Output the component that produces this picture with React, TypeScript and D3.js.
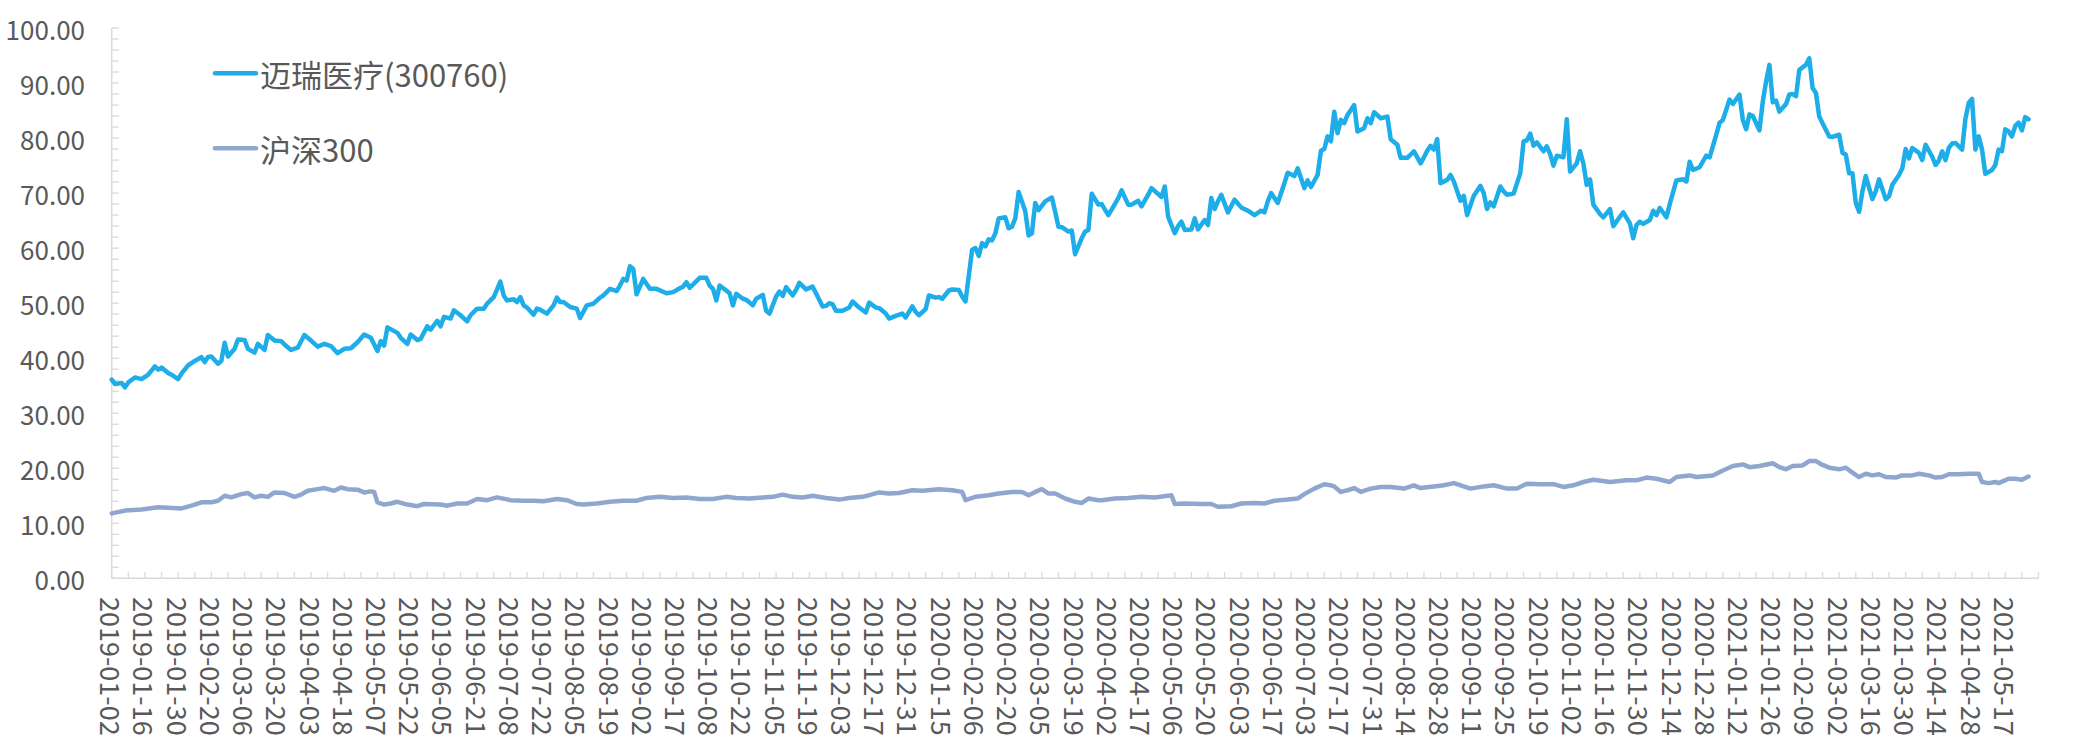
import * as d3 from "d3";
import React from "react";

// trading-day index of every 10th day, as printed on the category axis
const dateLabels = [
    "2019-01-02", "2019-01-16", "2019-01-30", "2019-02-20", "2019-03-06", "2019-03-20",
    "2019-04-03", "2019-04-18", "2019-05-07", "2019-05-22", "2019-06-05", "2019-06-21",
    "2019-07-08", "2019-07-22", "2019-08-05", "2019-08-19", "2019-09-02", "2019-09-17",
    "2019-10-08", "2019-10-22", "2019-11-05", "2019-11-19", "2019-12-03", "2019-12-17",
    "2019-12-31", "2020-01-15", "2020-02-06", "2020-02-20", "2020-03-05", "2020-03-19",
    "2020-04-02", "2020-04-17", "2020-05-06", "2020-05-20", "2020-06-03", "2020-06-17",
    "2020-07-03", "2020-07-17", "2020-07-31", "2020-08-14", "2020-08-28", "2020-09-11",
    "2020-09-25", "2020-10-19", "2020-11-02", "2020-11-16", "2020-11-30", "2020-12-14",
    "2020-12-28", "2021-01-12", "2021-01-26", "2021-02-09", "2021-03-02", "2021-03-16",
    "2021-03-30", "2021-04-14", "2021-04-28", "2021-05-17",
];
const labelEvery = 10;
const dayCount = 581;

const seriesNames = ["迈瑞医疗(300760)", "沪深300"];
const seriesColors = ["#1DADE8", "#8FA6CF"];

// [trading day, value]
const mindray: [number, number][] = [
    [0, 36.1], [1, 35.3], [3, 35.5], [4, 34.7], [5, 35.6], [7, 36.5], [9, 36.2], [11, 37.0],
    [13, 38.5], [14, 37.9], [15, 38.3], [17, 37.3], [18, 37.0], [20, 36.2], [21, 37.2], [23, 38.7],
    [25, 39.5], [27, 40.2], [28, 39.3], [29, 40.2], [30, 40.3], [32, 39.0], [33, 39.5], [34, 42.8],
    [35, 40.3], [37, 41.7], [38, 43.4], [40, 43.3], [41, 41.7], [43, 41.0], [44, 42.6], [46, 41.5],
    [47, 44.2], [49, 43.2], [51, 43.1], [52, 42.5], [54, 41.5], [56, 41.9], [58, 44.2], [60, 43.2],
    [62, 42.1], [64, 42.6], [66, 42.2], [68, 40.9], [70, 41.7], [72, 41.8], [74, 42.9], [76, 44.3],
    [78, 43.7], [80, 41.3], [81, 43.1], [82, 42.3], [83, 45.6], [86, 44.6], [87, 43.7], [89, 42.6],
    [90, 44.3], [92, 43.3], [93, 43.5], [95, 45.8], [96, 45.2], [98, 46.8], [99, 45.8], [100, 47.5],
    [102, 47.2], [103, 48.7], [105, 47.8], [107, 46.7], [108, 47.8], [110, 49.0], [112, 49.0], [113, 49.9],
    [115, 51.1], [117, 53.9], [118, 51.4], [119, 50.5], [121, 50.7], [122, 50.2], [123, 51.1], [124, 49.6],
    [125, 49.2], [127, 47.9], [128, 49.0], [129, 48.8], [131, 48.1], [133, 49.6], [134, 51.0], [135, 50.2],
    [136, 50.2], [138, 49.3], [140, 49.0], [141, 47.3], [143, 49.6], [145, 49.9], [147, 51.0], [148, 51.4],
    [150, 52.6], [152, 52.2], [153, 53.2], [154, 54.4], [155, 54.1], [156, 56.7], [157, 56.2], [158, 51.6],
    [160, 54.4], [162, 52.6], [164, 52.6], [167, 51.8], [169, 52.0], [171, 52.7], [172, 53.0], [173, 53.8],
    [174, 52.8], [177, 54.6], [179, 54.6], [180, 53.2], [181, 52.6], [182, 50.5], [183, 53.2], [185, 52.3],
    [186, 51.8], [187, 49.6], [188, 51.7], [190, 50.8], [191, 50.6], [193, 49.6], [194, 50.8], [196, 51.5],
    [197, 48.6], [198, 48.1], [200, 51.2], [201, 52.1], [202, 51.3], [203, 52.9], [205, 51.4], [206, 52.4],
    [207, 53.7], [209, 52.5], [211, 53.0], [212, 51.8], [214, 49.4], [215, 49.5], [216, 50.0], [217, 49.8],
    [218, 48.6], [220, 48.6], [222, 49.2], [223, 50.3], [225, 49.2], [227, 48.3], [228, 50.1], [230, 49.2],
    [231, 49.1], [233, 48.1], [234, 47.2], [236, 47.7], [238, 48.1], [239, 47.4], [241, 49.4], [242, 48.4],
    [243, 47.8], [245, 48.9], [246, 51.4], [248, 51.0], [249, 51.1], [250, 50.8], [252, 52.3], [253, 52.5],
    [255, 52.4], [256, 51.2], [257, 50.3], [259, 59.7], [260, 60.0], [261, 58.6], [262, 60.9], [263, 60.3],
    [264, 61.6], [265, 61.4], [266, 62.7], [267, 65.4], [269, 65.6], [270, 63.6], [271, 63.9], [272, 65.4],
    [273, 70.2], [275, 66.7], [276, 62.3], [277, 62.7], [278, 68.2], [279, 66.9], [281, 68.5], [283, 69.2],
    [284, 66.6], [285, 63.9], [286, 63.8], [288, 63.0], [289, 63.2], [290, 58.9], [292, 61.8], [293, 63.0],
    [294, 63.3], [295, 69.9], [297, 67.9], [298, 68.0], [300, 66.0], [301, 67.0], [303, 69.1], [304, 70.5],
    [306, 67.9], [307, 67.9], [309, 68.6], [310, 67.6], [312, 69.7], [313, 70.9], [316, 69.3], [317, 71.2],
    [318, 65.7], [320, 62.7], [321, 64.0], [322, 64.8], [323, 63.3], [325, 63.4], [326, 65.4], [327, 63.4],
    [329, 65.1], [330, 64.2], [331, 69.1], [332, 67.1], [333, 68.5], [334, 69.7], [336, 66.5], [338, 68.8],
    [340, 67.4], [342, 66.8], [344, 66.0], [346, 66.8], [347, 66.5], [348, 68.5], [349, 70.0], [351, 68.2],
    [353, 71.8], [354, 73.7], [356, 73.1], [357, 74.5], [359, 70.9], [360, 72.3], [361, 71.1], [363, 73.3],
    [364, 77.7], [365, 78.0], [366, 80.3], [367, 79.4], [368, 84.8], [369, 80.9], [370, 83.3], [371, 82.7],
    [372, 84.2], [374, 86.0], [375, 81.2], [377, 81.8], [378, 83.6], [379, 82.7], [380, 84.7], [382, 83.6],
    [384, 83.9], [385, 79.8], [387, 78.8], [388, 76.4], [390, 76.4], [391, 77.0], [392, 77.6], [394, 75.4],
    [395, 76.5], [396, 77.7], [397, 78.6], [398, 77.9], [399, 79.8], [400, 71.8], [402, 72.4], [403, 73.3],
    [404, 72.1], [406, 68.6], [407, 69.5], [408, 66.0], [410, 69.5], [412, 71.3], [413, 70.0], [414, 67.1],
    [415, 68.3], [416, 67.6], [418, 71.2], [419, 70.3], [420, 69.7], [422, 69.9], [424, 73.6], [425, 79.4],
    [426, 79.6], [427, 80.8], [428, 78.6], [429, 79.2], [431, 77.6], [432, 78.5], [433, 77.1], [434, 75.0],
    [435, 76.8], [437, 76.5], [438, 83.4], [439, 73.9], [441, 75.4], [442, 77.6], [443, 75.4], [444, 71.5],
    [445, 72.5], [446, 67.9], [448, 66.2], [449, 65.6], [451, 67.1], [452, 64.0], [454, 65.7], [455, 66.5],
    [457, 64.5], [458, 61.8], [459, 64.2], [460, 64.8], [461, 64.4], [463, 65.1], [464, 66.8], [465, 66.0],
    [466, 67.3], [468, 65.6], [469, 68.0], [471, 72.3], [473, 72.5], [474, 72.1], [475, 75.7], [476, 74.2],
    [478, 74.7], [480, 76.8], [481, 76.5], [483, 80.6], [484, 82.8], [485, 83.3], [487, 87.0], [488, 86.2],
    [490, 87.9], [491, 83.3], [492, 81.6], [493, 84.3], [494, 84.0], [496, 81.4], [497, 86.6], [498, 90.3],
    [499, 93.3], [500, 86.5], [501, 86.8], [502, 84.8], [504, 86.2], [505, 87.9], [506, 88.0], [507, 87.6],
    [508, 92.4], [510, 93.3], [511, 94.5], [512, 89.1], [513, 88.2], [514, 83.9], [515, 82.7], [517, 80.3],
    [518, 80.2], [520, 80.6], [521, 77.3], [522, 77.0], [523, 73.6], [524, 73.6], [525, 68.2], [526, 66.6],
    [527, 70.3], [528, 73.1], [530, 68.9], [531, 70.3], [532, 72.5], [534, 68.9], [535, 69.4], [536, 71.5],
    [538, 73.3], [539, 74.5], [540, 78.0], [541, 76.3], [542, 78.2], [544, 77.3], [545, 76.0], [546, 78.8],
    [548, 76.6], [549, 75.1], [550, 75.9], [551, 77.6], [552, 76.0], [553, 78.2], [554, 79.0], [555, 79.1],
    [557, 77.9], [558, 83.5], [559, 86.4], [560, 87.1], [561, 77.9], [562, 80.3], [563, 77.9], [564, 73.5],
    [566, 74.2], [567, 75.1], [568, 77.9], [569, 77.6], [570, 81.6], [571, 81.2], [572, 80.3], [573, 82.2],
    [574, 82.8], [575, 81.4], [576, 83.8], [577, 83.4],
];

const csi300: [number, number][] = [
    [0, 11.8], [4, 12.3], [9, 12.5], [14, 12.9], [17, 12.8], [21, 12.7], [24, 13.2], [27, 13.8],
    [30, 13.8], [32, 14.1], [34, 15.0], [36, 14.7], [39, 15.3], [41, 15.5], [43, 14.7], [45, 15.0],
    [47, 14.8], [49, 15.6], [52, 15.5], [55, 14.8], [57, 15.2], [59, 15.9], [62, 16.2], [64, 16.4],
    [67, 15.9], [69, 16.5], [71, 16.2], [74, 16.1], [76, 15.6], [78, 15.8], [79, 15.7], [80, 13.8],
    [82, 13.4], [84, 13.6], [86, 13.9], [89, 13.4], [92, 13.1], [94, 13.5], [99, 13.4], [101, 13.2],
    [104, 13.6], [107, 13.6], [110, 14.4], [113, 14.2], [116, 14.7], [120, 14.2], [124, 14.1], [127, 14.1],
    [130, 14.0], [134, 14.4], [137, 14.2], [140, 13.5], [142, 13.4], [146, 13.6], [150, 13.9], [154, 14.1],
    [158, 14.1], [161, 14.6], [165, 14.8], [169, 14.6], [173, 14.7], [177, 14.4], [181, 14.4], [185, 14.8],
    [188, 14.6], [192, 14.5], [196, 14.7], [199, 14.8], [202, 15.2], [205, 14.8], [208, 14.7], [211, 15.0],
    [215, 14.6], [219, 14.3], [222, 14.6], [226, 14.8], [228, 15.1], [231, 15.6], [234, 15.4], [237, 15.5],
    [241, 16.0], [244, 15.9], [249, 16.2], [253, 16.0], [256, 15.7], [257, 14.2], [260, 14.8], [264, 15.1],
    [267, 15.4], [271, 15.7], [274, 15.7], [276, 15.1], [278, 15.7], [280, 16.2], [282, 15.4], [284, 15.4],
    [287, 14.5], [290, 13.9], [292, 13.7], [294, 14.5], [297, 14.2], [298, 14.2], [302, 14.5], [306, 14.6],
    [310, 14.8], [314, 14.7], [319, 15.1], [320, 13.5], [323, 13.6], [328, 13.5], [331, 13.5], [333, 13.0],
    [337, 13.1], [340, 13.6], [344, 13.7], [347, 13.6], [350, 14.1], [354, 14.3], [357, 14.5], [359, 15.3],
    [362, 16.3], [365, 17.1], [367, 16.9], [368, 16.7], [370, 15.7], [372, 16.0], [374, 16.4], [376, 15.7],
    [379, 16.3], [382, 16.6], [385, 16.6], [389, 16.3], [392, 16.9], [394, 16.4], [398, 16.7], [401, 16.9],
    [404, 17.3], [409, 16.3], [413, 16.7], [416, 16.9], [420, 16.3], [423, 16.3], [426, 17.2], [430, 17.1],
    [434, 17.1], [437, 16.6], [440, 16.9], [443, 17.5], [446, 17.9], [451, 17.5], [456, 17.8], [459, 17.8],
    [462, 18.3], [465, 18.1], [469, 17.5], [471, 18.4], [475, 18.7], [477, 18.4], [482, 18.7], [485, 19.6],
    [488, 20.4], [491, 20.7], [493, 20.2], [496, 20.4], [500, 20.9], [502, 20.2], [504, 19.8], [506, 20.4],
    [509, 20.5], [511, 21.3], [513, 21.3], [515, 20.6], [517, 20.1], [520, 19.8], [522, 20.1], [524, 19.2],
    [526, 18.4], [528, 19.0], [530, 18.7], [532, 18.9], [534, 18.4], [537, 18.3], [539, 18.7], [542, 18.7],
    [544, 19.0], [547, 18.7], [549, 18.3], [551, 18.4], [553, 18.9], [556, 18.9], [559, 19.0], [562, 19.0],
    [563, 17.5], [565, 17.3], [567, 17.5], [568, 17.3], [571, 18.1], [573, 18.1], [575, 17.9], [577, 18.5],
];

const W = 2090;
const H = 736;
const left = 111.7;
const right = 2038.5;
const top = 28;
const bottom = 578.3;

const axisColor = "#d9d9d9";
const textColor = "#595959";
const font = "'Noto Sans CJK SC', 'Noto Sans', sans-serif";

export default function App() {
    const x = d3.scaleLinear().domain([0, dayCount - 1]).range([left, right]);
    const y = d3.scaleLinear().domain([0, 100]).range([bottom, top]);

    const line = d3
        .line<[number, number]>()
        .x((d) => x(d[0]))
        .y((d) => y(d[1]));

    const yMajor = d3.range(0, 101, 10);
    const yMinor = d3.range(0, 101, 2);
    const xTicks = d3.range(0, dayCount, 5);
    const fmt = d3.format(".2f");

    return (
        <div style={{ position: "absolute", left: 0, top: 0 }}>
            <svg width={W} height={H} style={{ display: "block", background: "#fff" }}>
                {/* y axis */}
                <line x1={left} x2={left} y1={top} y2={bottom} stroke={axisColor} strokeWidth={1.5} />
                {yMinor.map((v) => (
                    <line key={"ym" + v} x1={left} x2={left + 7} y1={y(v)} y2={y(v)} stroke={axisColor} strokeWidth={1.3} />
                ))}
                {yMajor.map((v) => (
                    <text
                        key={"yl" + v}
                        x={85}
                        y={y(v)}
                        textAnchor="end"
                        dominantBaseline="central"
                        fontFamily={font}
                        fontSize={26}
                        fill={textColor}
                    >
                        {fmt(v)}
                    </text>
                ))}

                {/* x axis */}
                <line x1={left} x2={right} y1={bottom} y2={bottom} stroke={axisColor} strokeWidth={1.5} />
                {xTicks.map((d) => (
                    <line key={"xt" + d} x1={x(d)} x2={x(d)} y1={bottom} y2={bottom - 6} stroke={axisColor} strokeWidth={1.3} />
                ))}
                {dateLabels.map((lab, i) => (
                    <text
                        key={lab}
                        transform={`translate(${x(i * labelEvery)}, 597) rotate(90)`}
                        textAnchor="start"
                        dominantBaseline="central"
                        fontFamily={font}
                        fontSize={27}
                        fill={textColor}
                    >
                        {lab}
                    </text>
                ))}

                {/* series */}
                <path d={line(csi300) || ""} fill="none" stroke={seriesColors[1]} strokeWidth={4.5} strokeLinejoin="round" strokeLinecap="round" />
                <path d={line(mindray) || ""} fill="none" stroke={seriesColors[0]} strokeWidth={4.5} strokeLinejoin="round" strokeLinecap="round" />

                {/* legend */}
                {seriesNames.map((name, i) => (
                    <g key={name} transform={`translate(215, ${73.3 + i * 75})`}>
                        <line x1={0} x2={41} y1={0} y2={0} stroke={seriesColors[i]} strokeWidth={4.5} strokeLinecap="round" />
                        <text x={45} y={0} dominantBaseline="central" fontFamily={font} fontSize={31} fill={textColor}>
                            {name}
                        </text>
                    </g>
                ))}
            </svg>
        </div>
    );
}
